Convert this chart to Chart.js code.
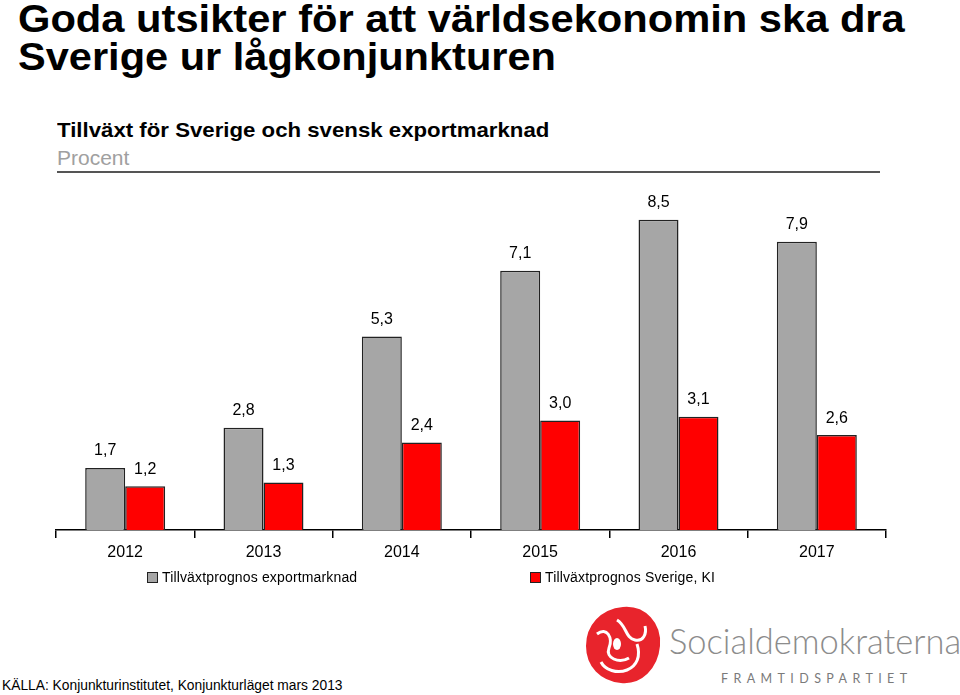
<!DOCTYPE html>
<html lang="sv">
<head>
  <meta charset="UTF-8" />
  <title>Tillväxt för Sverige och svensk exportmarknad</title>
  <script src="https://cdn.jsdelivr.net/npm/chart.js"></script>
  <style>
    body {
      margin: 0;
      width: 960px;
      height: 695px;
      background: #fff;
      font-family: 'Liberation Sans', Arial, sans-serif;
      position: relative;
      overflow: hidden;
    }
    .fit {
      position: absolute;
      white-space: nowrap;
      transform-origin: 0 0;
    }
    .title {
      left: 18px;
      margin: 0;
      font-weight: bold;
      font-size: 38px;
      line-height: 38px;
      color: #000;
    }
    .subtitle {
      left: 57px;
      top: 118px;
      font-weight: bold;
      font-size: 21px;
      color: #000;
    }
    .unit {
      position: absolute;
      left: 57px;
      top: 146px;
      font-size: 21px;
      color: #a0a0a0;
    }
    .rule {
      position: absolute;
      left: 57px;
      top: 171px;
      width: 823px;
      height: 2px;
      background: #555;
    }
    #wrap {
      position: absolute;
      left: 0;
      top: 150px;
      width: 960px;
      height: 420px;
    }
    .legend {
      position: absolute;
      top: 569px;
      font-size: 14px;
      letter-spacing: 0.15px;
      color: #000;
      white-space: nowrap;
    }
    .legend span.box {
      display: inline-block;
      width: 9px;
      height: 9px;
      border: 1px solid #222;
      margin-right: 4px;
      vertical-align: -1px;
    }
    .source {
      position: absolute;
      left: 2px;
      top: 678px;
      font-size: 13.8px;
      color: #000;
      white-space: nowrap;
    }
    .logo-text {
      position: absolute;
      left: 669px;
      top: 620px;
      font-family: Lato, 'Open Sans', sans-serif;
      font-weight: 300;
      font-size: 34.5px;
      color: #8c8c8c;
      white-space: nowrap;
    }
    .logo-sub {
      position: absolute;
      left: 721px;
      top: 671px;
      font-family: Lato, 'Open Sans', sans-serif;
      font-size: 12.5px;
      letter-spacing: 5.4px;
      color: #7a7a7a;
      white-space: nowrap;
    }
    .rose {
      position: absolute;
      left: 583px;
      top: 604px;
    }
  </style>
</head>
<body>
  <div class="fit title" style="top:0px" data-w="887">Goda utsikter för att världsekonomin ska dra</div>
  <div class="fit title" style="top:38px" data-w="538">Sverige ur lågkonjunkturen</div>
  <div class="fit subtitle" data-w="492">Tillväxt för Sverige och svensk exportmarknad</div>
  <div class="unit">Procent</div>
  <div class="rule"></div>

  <div id="wrap"><canvas id="chart"></canvas></div>
  <div id="legend"></div>

  <div class="source">KÄLLA: Konjunkturinstitutet, Konjunkturläget mars 2013</div>

  <svg class="rose" width="80" height="82" viewBox="0 0 80 82">
    <path d="M40 4 C62 2 78 20 76 42 C74 64 58 80 38 78 C18 76 4 62 4 42 C4 22 18 6 40 4 Z" fill="#e8242c" stroke="#e8242c" stroke-width="2"/>
    <path d="M14 30 C24 22 30 34 26 44 C22 54 36 60 46 54" fill="none" stroke="#fff" stroke-width="3"/>
    <path d="M34 16 C44 22 42 34 52 36 C60 38 64 30 62 22" fill="none" stroke="#fff" stroke-width="3"/>
    <path d="M54 40 C58 52 54 62 44 66 C34 70 22 66 18 58" fill="none" stroke="#fff" stroke-width="3"/>
    <ellipse cx="34" cy="40" rx="4" ry="6" fill="#fff"/>
  </svg>
  <div class="logo-text">Socialdemokraterna</div>
  <div class="logo-sub">FRAMTIDSPARTIET</div>

  <script>
    const years = ['2012', '2013', '2014', '2015', '2016', '2017'];
    const exportGrowth = [1.7, 2.8, 5.3, 7.1, 8.5, 7.9];
    const swedenGrowth = [1.2, 1.3, 2.4, 3.0, 3.1, 2.6];
    const seriesNames = ['Tillväxtprognos exportmarknad', 'Tillväxtprognos Sverige, KI'];
    const seriesColors = ['#a6a6a6', '#ff0000'];

    // the headings in the original are a bit stretched sideways
    document.querySelectorAll('.fit').forEach(el => {
      const s = el.dataset.w / el.offsetWidth;
      el.style.transform = 'scaleX(' + s + ')';
    });

    // values above the bars, comma as decimal mark
    const barLabels = {
      id: 'barLabels',
      afterDatasetsDraw(chart) {
        const ctx = chart.ctx;
        ctx.save();
        ctx.font = '16px "Liberation Sans", Arial, sans-serif';
        ctx.fillStyle = '#000';
        ctx.textAlign = 'center';
        ctx.textBaseline = 'middle';
        chart.data.datasets.forEach((ds, i) => {
          chart.getDatasetMeta(i).data.forEach((bar, j) => {
            const txt = ds.data[j].toFixed(1).replace('.', ',');
            ctx.fillText(txt, bar.x, bar.y - 17);
          });
        });
        ctx.restore();
      }
    };

    new Chart(document.getElementById('chart'), {
      type: 'bar',
      data: {
        labels: years,
        datasets: [
          {
            label: seriesNames[0],
            data: exportGrowth,
            backgroundColor: seriesColors[0],
            borderColor: '#222',
            borderWidth: 1.5
          },
          {
            label: seriesNames[1],
            data: swedenGrowth,
            backgroundColor: seriesColors[1],
            borderColor: '#222',
            borderWidth: 1.5
          }
        ]
      },
      options: {
        responsive: true,
        maintainAspectRatio: false,
        animation: false,
        events: [],
        layout: { padding: { left: 56, right: 74, top: 15, bottom: 0 } },
        datasets: {
          bar: { categoryPercentage: 0.578, barPercentage: 1 }
        },
        plugins: {
          legend: { display: false },
          tooltip: { enabled: false }
        },
        scales: {
          x: {
            afterFit(scale) { scale.height = 40; },
            border: { display: true, color: '#000', width: 1.5 },
            grid: {
              offset: true,
              drawOnChartArea: false,
              drawTicks: true,
              tickLength: 8,
              color: '#000',
              lineWidth: 1.5
            },
            ticks: {
              color: '#000',
              padding: 5,
              font: { family: '"Liberation Sans", Arial, sans-serif', size: 16 }
            }
          },
          y: {
            display: false,
            min: 0,
            max: 10
          }
        }
      },
      plugins: [barLabels]
    });

    // legend built from the series names
    const legendLeft = [147, 530];
    const legend = document.getElementById('legend');
    seriesNames.forEach((name, i) => {
      const div = document.createElement('div');
      div.className = 'legend';
      div.style.left = legendLeft[i] + 'px';
      div.innerHTML = '<span class="box" style="background:' + seriesColors[i] + '"></span>' + name;
      legend.appendChild(div);
    });
  </script>
</body>
</html>
